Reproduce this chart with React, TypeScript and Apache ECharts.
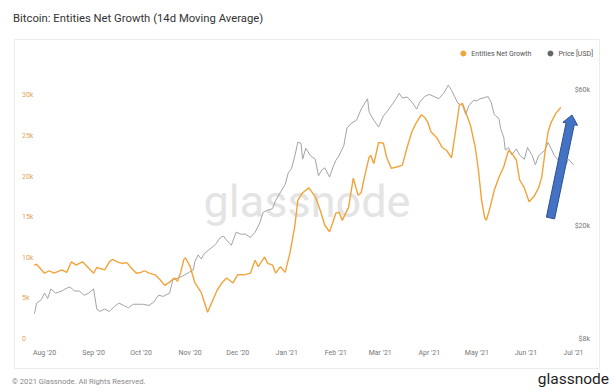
import React, { useEffect, useRef } from "react";
import * as echarts from "echarts";

const TITLE = "Bitcoin: Entities Net Growth (14d Moving Average)";
const SERIES_NAMES = ["Entities Net Growth", "Price [USD]"];

const growthDates = [
  "2020-07-24", "2020-07-27", "2020-08-01", "2020-08-04", "2020-08-07", "2020-08-12", "2020-08-15",
  "2020-08-18", "2020-08-21", "2020-08-23", "2020-08-25", "2020-08-29", "2020-09-01", "2020-09-03",
  "2020-09-08", "2020-09-11", "2020-09-13", "2020-09-16", "2020-09-19", "2020-09-22", "2020-09-25",
  "2020-09-28", "2020-10-01", "2020-10-03", "2020-10-06", "2020-10-10", "2020-10-13", "2020-10-16",
  "2020-10-19", "2020-10-22", "2020-10-24", "2020-10-26", "2020-10-28", "2020-10-29", "2020-11-01",
  "2020-11-04", "2020-11-08", "2020-11-12", "2020-11-14", "2020-11-18", "2020-11-21", "2020-11-24",
  "2020-11-28", "2020-12-01", "2020-12-05", "2020-12-09", "2020-12-12", "2020-12-14", "2020-12-18",
  "2020-12-20", "2020-12-23", "2020-12-25", "2020-12-28", "2020-12-31", "2021-01-03", "2021-01-06",
  "2021-01-08", "2021-01-11", "2021-01-15", "2021-01-19", "2021-01-22", "2021-01-25", "2021-01-28",
  "2021-01-30", "2021-02-01", "2021-02-03", "2021-02-05", "2021-02-09", "2021-02-12", "2021-02-15",
  "2021-02-17", "2021-02-19", "2021-02-22", "2021-02-23", "2021-02-25", "2021-02-28", "2021-03-03",
  "2021-03-05", "2021-03-08", "2021-03-12", "2021-03-15", "2021-03-18", "2021-03-21", "2021-03-24",
  "2021-03-27", "2021-03-29", "2021-03-31", "2021-04-02", "2021-04-06", "2021-04-09", "2021-04-12",
  "2021-04-15", "2021-04-17", "2021-04-20", "2021-04-22", "2021-04-24", "2021-04-27", "2021-04-30",
  "2021-05-02", "2021-05-04", "2021-05-06", "2021-05-07", "2021-05-09", "2021-05-12", "2021-05-15",
  "2021-05-18", "2021-05-21", "2021-05-23", "2021-05-26", "2021-05-28", "2021-05-31", "2021-06-03",
  "2021-06-06", "2021-06-09", "2021-06-11", "2021-06-13", "2021-06-15", "2021-06-17", "2021-06-20",
  "2021-06-23",
];
const growthValues = [
  9000, 9200, 8100, 8400, 8100, 8500, 8200,
  9500, 9100, 9300, 9500, 8700, 8100, 8800,
  8500, 9500, 9800, 9500, 9300, 9400, 8700,
  8100, 8200, 8400, 8100, 7900, 7300, 6600,
  7000, 7500, 7100, 8200, 9800, 10000, 8900,
  6900, 5700, 3300, 4200, 6000, 6900, 7500,
  6900, 7900, 7900, 8100, 9700, 8900, 10100,
  9300, 9100, 8100, 8900, 8200, 10600, 13800,
  17100, 18000, 18600, 17500, 15900, 14000, 13200,
  14300, 15500, 15600, 14600, 16200, 19800, 17700,
  18000, 19900, 22400, 22600, 21600, 24200, 24100,
  22400, 21000, 21200, 21400, 23600, 25500, 26700,
  27600, 27300, 26700, 25500, 24700, 23600, 23200,
  22300, 24800, 28800, 29000, 27900, 26300, 23600,
  20800, 17100, 14900, 14600, 15900, 18300, 19900,
  21200, 23200, 22900, 22000, 19600, 18600, 16900,
  17500, 18600, 19900, 22900, 25500, 26700, 27800,
  28500,
];

const priceDates = [
  "2020-07-24", "2020-07-26", "2020-07-27", "2020-07-30", "2020-08-01", "2020-08-03", "2020-08-05",
  "2020-08-08", "2020-08-12", "2020-08-14", "2020-08-17", "2020-08-20", "2020-08-23", "2020-08-26",
  "2020-08-29", "2020-09-01", "2020-09-03", "2020-09-05", "2020-09-08", "2020-09-11", "2020-09-14",
  "2020-09-17", "2020-09-20", "2020-09-23", "2020-09-26", "2020-09-29", "2020-10-02", "2020-10-06",
  "2020-10-09", "2020-10-12", "2020-10-15", "2020-10-19", "2020-10-21", "2020-10-24", "2020-10-27",
  "2020-10-31", "2020-11-03", "2020-11-04", "2020-11-06", "2020-11-08", "2020-11-10", "2020-11-13",
  "2020-11-17", "2020-11-20", "2020-11-22", "2020-11-24", "2020-11-27", "2020-11-30", "2020-12-03",
  "2020-12-06", "2020-12-09", "2020-12-12", "2020-12-15", "2020-12-17", "2020-12-20", "2020-12-23",
  "2020-12-25", "2020-12-27", "2020-12-31", "2021-01-02", "2021-01-04", "2021-01-06", "2021-01-08",
  "2021-01-10", "2021-01-11", "2021-01-13", "2021-01-16", "2021-01-19", "2021-01-21", "2021-01-23",
  "2021-01-25", "2021-01-28", "2021-01-30", "2021-02-01", "2021-02-03", "2021-02-06", "2021-02-08",
  "2021-02-11", "2021-02-14", "2021-02-17", "2021-02-21", "2021-02-22", "2021-02-25", "2021-02-28",
  "2021-03-03", "2021-03-05", "2021-03-08", "2021-03-11", "2021-03-13", "2021-03-15", "2021-03-18",
  "2021-03-21", "2021-03-24", "2021-03-26", "2021-03-29", "2021-04-01", "2021-04-04", "2021-04-07",
  "2021-04-10", "2021-04-13", "2021-04-15", "2021-04-17", "2021-04-19", "2021-04-22", "2021-04-24",
  "2021-04-26", "2021-04-29", "2021-05-01", "2021-05-03", "2021-05-06", "2021-05-08", "2021-05-10",
  "2021-05-12", "2021-05-15", "2021-05-16", "2021-05-18", "2021-05-19", "2021-05-21", "2021-05-23",
  "2021-05-26", "2021-05-28", "2021-05-31", "2021-06-02", "2021-06-05", "2021-06-07", "2021-06-09",
  "2021-06-13", "2021-06-15", "2021-06-17", "2021-06-19", "2021-06-21", "2021-06-24", "2021-06-26",
  "2021-06-28", "2021-07-01",
];
const priceValues = [
  9500, 10000, 10700, 11000, 11600, 11100, 12000,
  11600, 11800, 12000, 12200, 11800, 11800, 11400,
  11600, 12000, 10200, 10000, 10200, 10000, 10400,
  10700, 10500, 10300, 10600, 10600, 10600, 10500,
  10800, 11400, 11300, 11600, 12900, 13100, 13300,
  13700, 14000, 15000, 15800, 15300, 16000, 16500,
  17200, 18200, 18400, 17800, 17100, 19000, 18700,
  18700, 18200, 19000, 20500, 22300, 22700, 23000,
  24600, 25700, 28000, 30800, 31800, 35100, 39400,
  39000, 34300, 37500, 35300, 34300, 30000, 31400,
  32000, 29700, 32000, 34000, 35300, 38300, 44200,
  46000, 47000, 51500, 56000, 50200, 47000, 44500,
  48700, 50200, 52900, 56000, 58500, 56300, 56800,
  54500, 51500, 54500, 57000, 58000, 57000, 56000,
  58500, 62500, 60000, 57000, 54000, 53000, 49300,
  53000, 55300, 55000, 56000, 56500, 57000, 54500,
  49300, 47700, 44000, 41000, 36900, 37700, 35500,
  37300, 35500, 34300, 37700, 35300, 32800, 35300,
  36900, 39300, 37300, 35300, 34300, 32000, 32800,
  34300, 32800,
];

const growthTicks = [0, 5000, 10000, 15000, 20000, 25000, 30000];
const priceTicks = [8000, 20000, 60000];
const monthTicks = [
  "2020-08-01", "2020-09-01", "2020-10-01", "2020-11-01", "2020-12-01", "2021-01-01",
  "2021-02-01", "2021-03-01", "2021-04-01", "2021-05-01", "2021-06-01", "2021-07-01",
];
const MONTHS = ["Jan", "Feb", "Mar", "Apr", "May", "Jun", "Jul", "Aug", "Sep", "Oct", "Nov", "Dec"];

const toTs = (s: string) => {
  const [y, m, d] = s.split("-").map(Number);
  return Date.UTC(y, m - 1, d);
};

const PRICE_MIN = 8000;
const PRICE_MAX = 65700;

export default function App() {
  const ref = useRef<HTMLDivElement>(null);
  useEffect(() => {
    if (!ref.current) return;
    const chart = echarts.init(ref.current, null, { renderer: "svg" });
    const orange = "#F2A33A";
    const gray = "#a3a3a3";
    chart.setOption({
      animation: false,
      backgroundColor: "#ffffff",
      textStyle: { fontFamily: "Roboto" },
      title: {
        text: TITLE,
        left: 8,
        top: 8,
        textStyle: { fontSize: 11.3, fontWeight: "normal", color: "#333", fontFamily: "Roboto" },
      },
      legend: {
        right: 17,
        top: 45,
        icon: "circle",
        itemWidth: 6,
        itemHeight: 6,
        itemGap: 16,
        textStyle: { fontSize: 7, color: "#555" },
        data: SERIES_NAMES,
      },
      grid: { left: 35, right: 40, top: 79, bottom: 53, containLabel: false },
      xAxis: {
        type: "value",
        min: toTs("2020-07-26"),
        max: toTs("2021-07-02"),
        axisLine: { show: false },
        axisTick: { show: false },
        splitLine: { show: false },
        axisLabel: {
          customValues: monthTicks.map(toTs),
          fontSize: 7,
          color: "#777",
          margin: 10,
          formatter: (v: number) => {
            const d = new Date(v);
            return MONTHS[d.getUTCMonth()] + " '" + String(d.getUTCFullYear()).slice(2);
          },
        },
      },
      yAxis: [
        {
          type: "value",
          min: 0,
          max: 32000,
          position: "left",
          axisLine: { show: false },
          axisTick: { show: false },
          splitLine: { show: false },
          axisLabel: {
            customValues: growthTicks,
            fontSize: 7,
            color: "#E0A458",
            align: "left",
            margin: 13,
            formatter: (v: number) => (v === 0 ? "0" : v / 1000 + "k"),
          },
        },
        {
          type: "log",
          min: PRICE_MIN,
          max: PRICE_MAX,
          position: "right",
          axisLine: { show: false },
          axisTick: { show: false },
          splitLine: { show: false },
          axisLabel: { show: false },
        },
        {
          type: "value",
          min: Math.log10(PRICE_MIN),
          max: Math.log10(PRICE_MAX),
          position: "right",
          axisLine: { show: false },
          axisTick: { show: false },
          splitLine: { show: false },
          axisLabel: {
            customValues: priceTicks.map((p) => Math.log10(p)),
            fontSize: 7,
            color: "#777",
            align: "right",
            margin: 15,
            formatter: (v: number) => "$" + Math.round(Math.pow(10, v) / 1000) + "k",
          },
        },
      ],
      graphic: [
        {
          type: "rect",
          shape: { x: 14.5, y: 39.5, width: 585, height: 329 },
          style: { fill: "none", stroke: "#ececec", lineWidth: 1 },
          z: -10,
        },
        {
          type: "text",
          x: 307,
          y: 201,
          z: -5,
          style: {
            text: "glassnode",
            fill: "#e4e4e4",
            font: "normal 45px Roboto",
            textAlign: "center",
            textVerticalAlign: "middle",
          },
        },
        {
          type: "text",
          x: 12,
          y: 381,
          style: {
            text: "© 2021 Glassnode. All Rights Reserved.",
            fill: "#888",
            font: "normal 7.6px Roboto",
            textAlign: "left",
            textVerticalAlign: "middle",
          },
        },
        {
          type: "text",
          x: 609,
          y: 379,
          style: {
            text: "glassnode",
            fill: "#1e1e1e",
            font: "normal 15.5px Roboto",
            textAlign: "right",
            textVerticalAlign: "middle",
          },
        },
        {
          type: "polygon",
          z: 100,
          shape: {
            points: [
              [546.4, 217.1],
              [566.1, 122.9],
              [562.9, 122.3],
              [572, 115],
              [577.5, 125.3],
              [574.3, 124.7],
              [554.6, 218.9],
            ],
          },
          style: { fill: "#4472C4", stroke: "#2F528F", lineWidth: 1 },
        },
      ],
      series: [
        {
          name: SERIES_NAMES[1],
          type: "line",
          yAxisIndex: 1,
          showSymbol: false,
          symbol: "none",
          lineStyle: { color: gray, width: 1 },
          itemStyle: { color: "#666" },
          data: priceDates.map((d, i) => [toTs(d), priceValues[i]]),
          z: 2,
        },
        {
          name: SERIES_NAMES[0],
          type: "line",
          yAxisIndex: 0,
          showSymbol: false,
          symbol: "none",
          lineStyle: { color: orange, width: 1.4 },
          itemStyle: { color: orange },
          data: growthDates.map((d, i) => [toTs(d), growthValues[i]]),
          z: 3,
        },
      ],
    });
    return () => chart.dispose();
  }, []);
  return <div ref={ref} style={{ width: 615, height: 392, position: "absolute", left: 0, top: 0 }} />;
}
